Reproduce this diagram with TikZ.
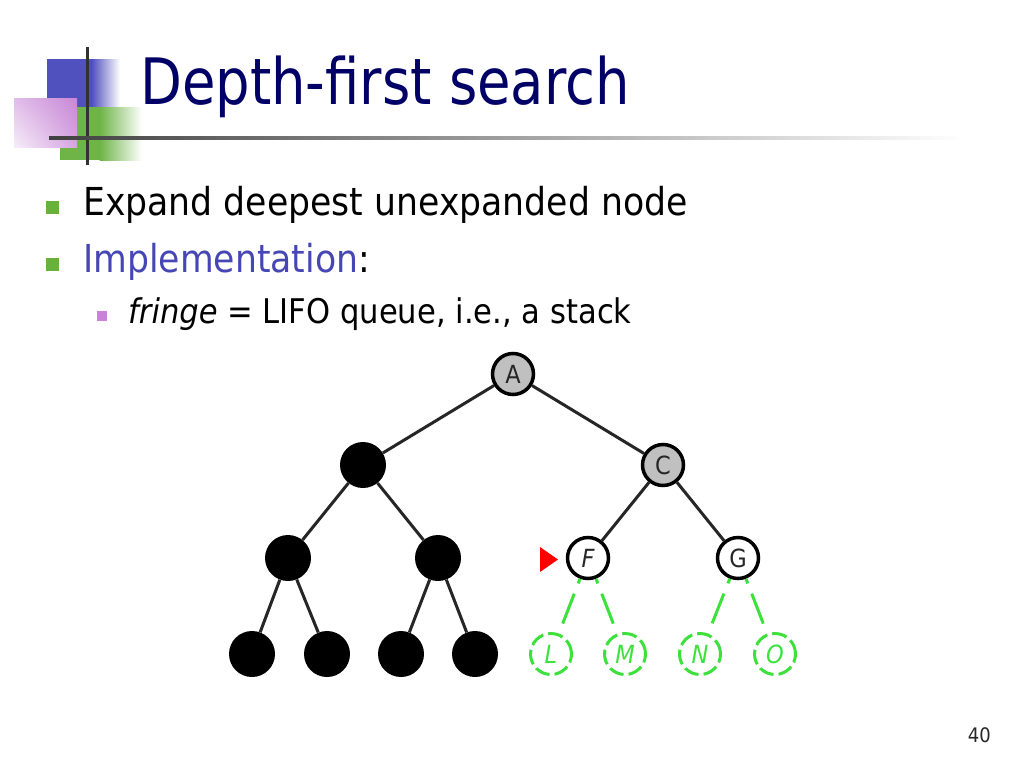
\documentclass[tikz,border=0pt]{standalone}
\usepackage{fontspec}
\usetikzlibrary{shadings}
\setmainfont{DejaVu Sans}[FakeStretch=0.9]
\newfontfamily\titlefont{DejaVu Sans}[FakeStretch=0.85]
\definecolor{navy}{RGB}{0,0,102}
\definecolor{implblue}{RGB}{70,70,180}
\definecolor{bulgreen}{RGB}{102,178,60}
\definecolor{bulpink}{RGB}{200,130,215}
\definecolor{logoblue}{RGB}{80,80,190}
\definecolor{logogreen}{RGB}{110,180,70}
\definecolor{logopink}{RGB}{200,135,215}
\definecolor{logoline}{RGB}{50,50,50}
\definecolor{nodegray}{RGB}{192,192,192}
\definecolor{fringegreen}{RGB}{60,225,60}
\tikzset{
  bodytext/.style={anchor=base west, inner sep=0pt, font=\fontsize{38.5}{46}\selectfont},
  subtext/.style={anchor=base west, inner sep=0pt, font=\fontsize{34}{40}\selectfont},
  blacknode/.style={circle, fill=black, minimum size=46pt, inner sep=0pt},
  opennode/.style={circle, draw=black, line width=3.5pt, minimum size=41pt, inner sep=0pt,
     text=black!85, font=\fontsize{25}{28}\selectfont},
  graynode/.style={opennode, fill=nodegray},
  whitenode/.style={opennode, fill=white},
  fringenode/.style={circle, draw=fringegreen, line width=3pt, dash pattern=on 15pt off 5pt,
     minimum size=41pt, inner sep=0pt, text=fringegreen, font=\fontsize{25}{28}\selectfont\itshape},
  treeedge/.style={line width=3pt, black!85},
  fringeedge/.style={line width=3pt, fringegreen, dash pattern=on 32pt off 11pt, dash phase=27pt}
}
\begin{document}
\begin{tikzpicture}[x=1pt,y=-1pt]
\useasboundingbox (0,0) rectangle (1024,768);
\fill[white] (0,0) rectangle (1024,768);
% logo
\fill[logoblue] (47,59) rectangle (92,107);
\shade[left color=logoblue, right color=white] (91.5,59) rectangle (120,107);
\fill[logogreen] (60,107) rectangle (100,160);
\shade[left color=logogreen, right color=white] (99.5,107) rectangle (142,160);
\shade[upper left=logopink!55!white, upper right=logopink, lower left=logopink!15!white, lower right=logopink!75!white] (14,98) rectangle (77,147);
\draw[line width=3pt, logoline] (87,47) -- (87,165);
\shade[left color=black!75, middle color=black!35, right color=white] (49,136.5) rectangle (965,139.5);
% title
\node[anchor=base west, inner sep=0pt, text=navy, font=\titlefont\fontsize{64}{70}\selectfont] (title) at (140,104) {Depth-first search};
% bullets
\fill[bulgreen] (46,201) rectangle (59,214);
\fill[bulgreen] (46,258) rectangle (59,271);
\fill[bulpink] (97,311) rectangle (107,321);
\node[bodytext] (l1) at (83,215) {Expand deepest unexpanded node};
\node[bodytext] (l2) at (83,272) {\textcolor{implblue}{Implementation}:};
\node[subtext] (l3) at (128,323) {\textit{fringe} = LIFO queue, i.e., a stack};
% tree
\node[graynode] (A) at (513,374) {A};
\node[blacknode] (B) at (363,465) {};
\node[graynode] (C) at (663,465) {C};
\node[blacknode] (D) at (288,558) {};
\node[blacknode] (E) at (438,558) {};
\node[whitenode] (F) at (588,558) {\itshape F};
\node[whitenode] (G) at (738,558) {G};
\node[blacknode] (H) at (252,654) {};
\node[blacknode] (I) at (327,654) {};
\node[blacknode] (J) at (401,654) {};
\node[blacknode] (K) at (475,654) {};
\node[fringenode] (L) at (551,654) {L};
\node[fringenode] (M) at (625,654) {M};
\node[fringenode] (N) at (700,654) {N};
\node[fringenode] (O) at (775,654) {O};
\draw[treeedge] (A) -- (B);
\draw[treeedge] (A) -- (C);
\draw[treeedge] (B) -- (D);
\draw[treeedge] (B) -- (E);
\draw[treeedge] (C) -- (F);
\draw[treeedge] (C) -- (G);
\draw[treeedge] (D) -- (H);
\draw[treeedge] (D) -- (I);
\draw[treeedge] (E) -- (J);
\draw[treeedge] (E) -- (K);
\draw[fringeedge] (F) -- (L);
\draw[fringeedge] (F) -- (M);
\draw[fringeedge] (G) -- (N);
\draw[fringeedge] (G) -- (O);
% marker
\fill[red] (540,547) -- (558,559.5) -- (540,572) -- cycle;
% page number
\node[anchor=base east, inner sep=0pt, text=black!85, font=\fontsize{20}{24}\selectfont] (pg) at (991,742) {40};
\end{tikzpicture}
\end{document}
